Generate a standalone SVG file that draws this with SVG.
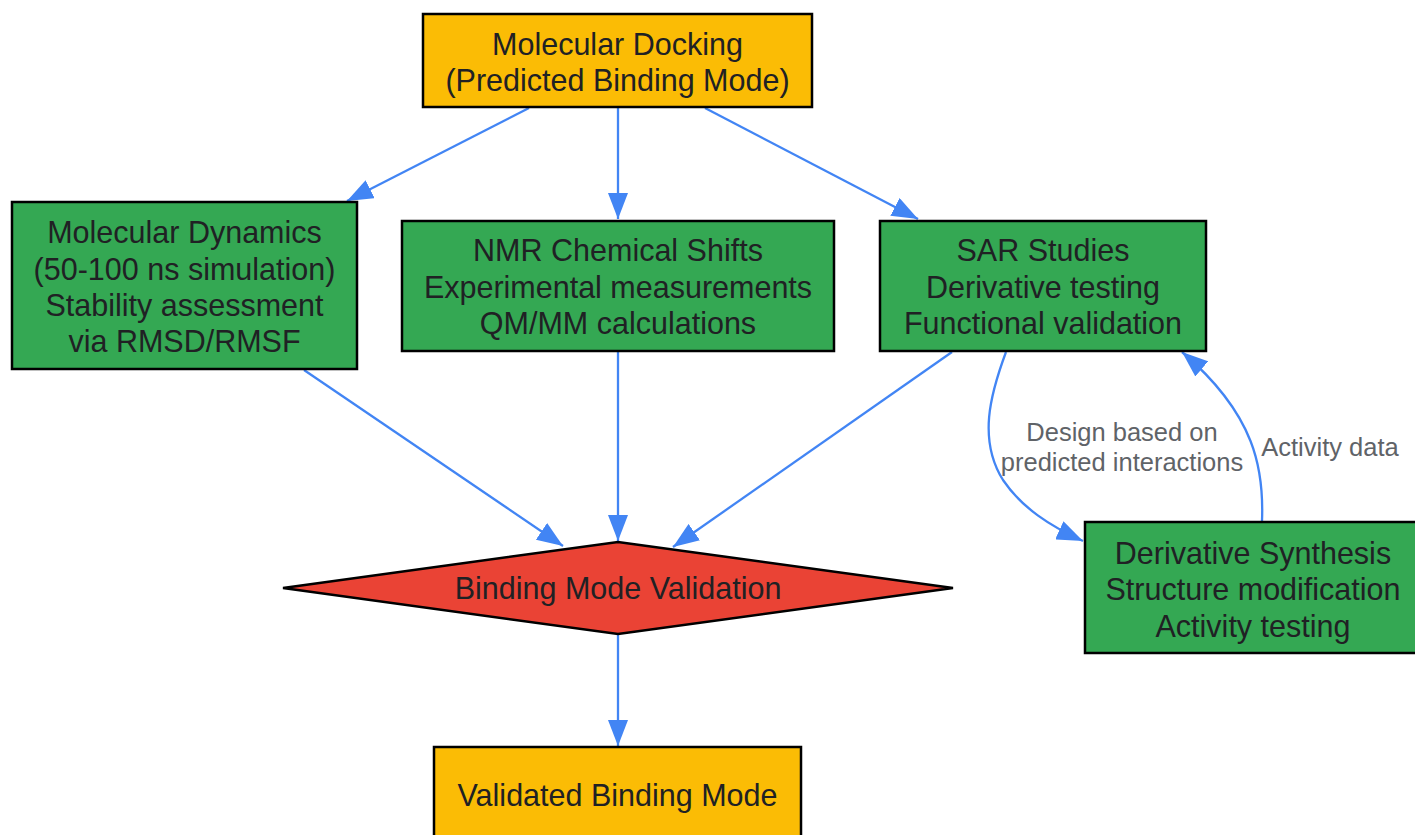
<svg xmlns="http://www.w3.org/2000/svg" width="1415" height="835" viewBox="0 0 1415 835">
<style>
.box{stroke:#000;stroke-width:2.5}
.yel{fill:#FBBC05}
.grn{fill:#34A853}
.red{fill:#EA4335}
.t{font-family:"Liberation Sans",Arial,sans-serif;font-size:30.5px;fill:#202124;text-anchor:middle}
.el{font-family:"Liberation Sans",Arial,sans-serif;font-size:25.5px;fill:#5F6368;text-anchor:middle}
.e{fill:none;stroke:#4285F4;stroke-width:2.3;marker-end:url(#ah)}
</style>
<defs>
<marker id="ah" markerUnits="userSpaceOnUse" viewBox="0 0 26 20" markerWidth="26" markerHeight="20" refX="26" refY="10" orient="auto">
<path d="M0,0 L26,10 L0,20 Z" fill="#4285F4"/>
</marker>
</defs>
<rect width="1415" height="835" fill="#fff"/>
<g id="connectors">
<path class="e" d="M529,108 L347,201"/>
<path class="e" d="M618,108 L618,219"/>
<path class="e" d="M705,108 L918,219"/>
<path class="e" d="M304,370 L563,546"/>
<path class="e" d="M618,352 L618,541"/>
<path class="e" d="M952,352 L673,547"/>
<path class="e" d="M618,635 L618,746"/>
<path class="e" d="M1006,352 C990,395 978,440 1003,480 C1022,508 1050,526 1083,541"/>
<path class="e" d="M1262,521 C1264,470 1256,415 1182,352"/>
<text class="el" x="1122" y="441">Design based on</text>
<text class="el" x="1122" y="471">predicted interactions</text>
<text class="el" x="1330" y="456">Activity data</text>
</g>
<g id="docking">
<rect class="box yel" x="423" y="14" width="389" height="93"/>
<text class="t" x="617.5" y="55">Molecular Docking</text>
<text class="t" x="617.5" y="91">(Predicted Binding Mode)</text>
</g>
<g id="md">
<rect class="box grn" x="12" y="202" width="345" height="167"/>
<text class="t" x="184.5" y="243">Molecular Dynamics</text>
<text class="t" x="184.5" y="280">(50-100 ns simulation)</text>
<text class="t" x="184.5" y="316">Stability assessment</text>
<text class="t" x="184.5" y="352">via RMSD/RMSF</text>
</g>
<g id="nmr">
<rect class="box grn" x="402" y="221" width="432" height="130"/>
<text class="t" x="618" y="261">NMR Chemical Shifts</text>
<text class="t" x="618" y="298">Experimental measurements</text>
<text class="t" x="618" y="334">QM/MM calculations</text>
</g>
<g id="sar">
<rect class="box grn" x="880" y="221" width="326" height="130"/>
<text class="t" x="1043" y="261">SAR Studies</text>
<text class="t" x="1043" y="298">Derivative testing</text>
<text class="t" x="1043" y="334">Functional validation</text>
</g>
<g id="synthesis">
<rect class="box grn" x="1085" y="522" width="336" height="131"/>
<text class="t" x="1253" y="564">Derivative Synthesis</text>
<text class="t" x="1253" y="600">Structure modification</text>
<text class="t" x="1253" y="637">Activity testing</text>
</g>
<g id="validation">
<polygon class="box red" points="283,588 618,542 953,588 618,634"/>
<text class="t" x="618" y="599">Binding Mode Validation</text>
</g>
<g id="validated">
<rect class="box yel" x="434" y="747" width="367" height="110"/>
<text class="t" x="617.5" y="806">Validated Binding Mode</text>
</g>
</svg>
